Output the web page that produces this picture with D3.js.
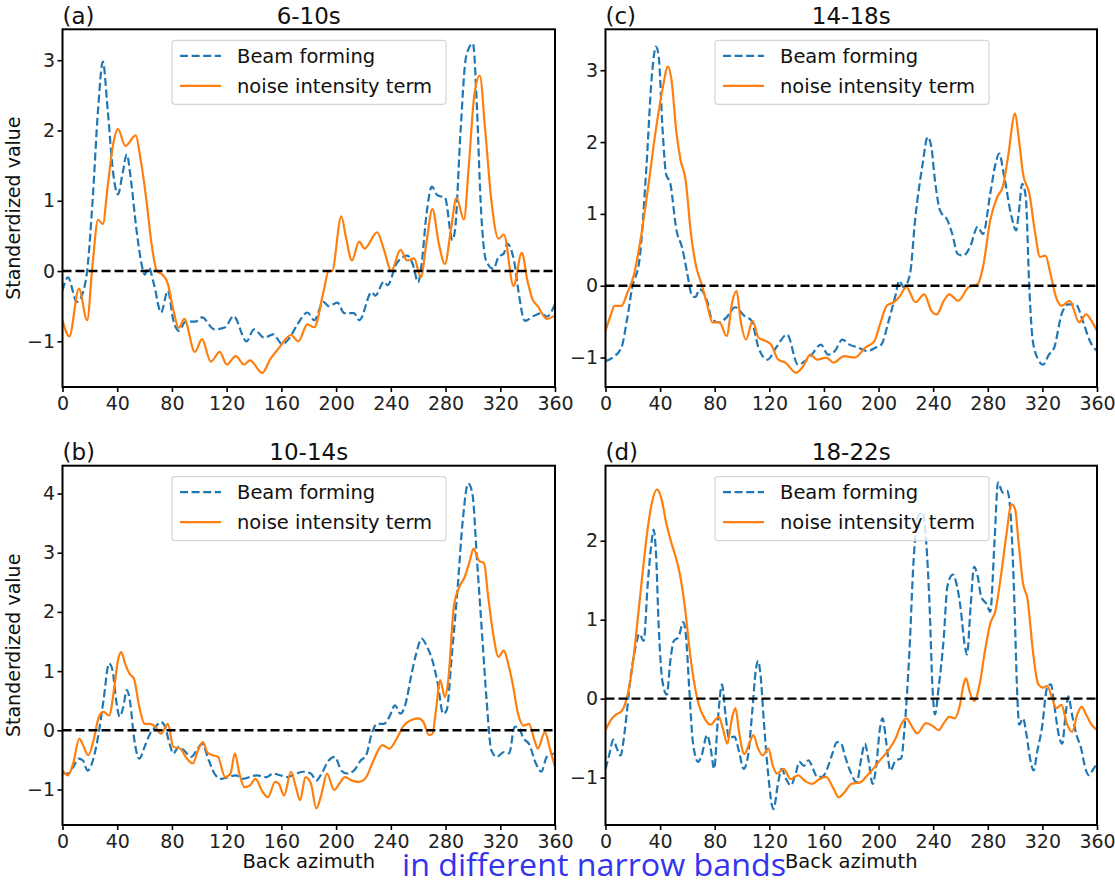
<!DOCTYPE html>
<html>
<head>
<meta charset="utf-8">
<script src="https://cdn.jsdelivr.net/npm/d3@7"></script>
<style>
  body { margin: 0; background: #fff; }
  svg { display: block; font-family: "DejaVu Sans", sans-serif; }
</style>
</head>
<body>
<svg id="fig" width="1115" height="882"></svg>
<script>
// azimuth ticks shared by all panels
var azTicks = [0, 40, 80, 120, 160, 200, 240, 280, 320, 360];

// (a) 6-10s  [back azimuth, standardized value]
var bfA = [[0,-0.28],[4,-0.09],[10.5,-0.44],[15,-0.3],[18,0],[22,1.0],[26,2.3],[29.5,2.98],[33,2.3],[37,1.4],[40.5,1.09],[44,1.4],[47,1.66],[50,1.3],[54,0.6],[59,0],[60,-0.05],[63,0.05],[67,-0.2],[72,-0.59],[77,-0.28],[81,-0.7],[85,-0.85],[90,-0.72],[97,-0.72],[102,-0.66],[111,-0.83],[119,-0.8],[125,-0.64],[134.5,-1.0],[140,-0.83],[147.6,-0.95],[154,-0.9],[160.6,-1.04],[166,-0.95],[172,-0.75],[179,-0.59],[184,-0.7],[190.7,-0.44],[194.6,-0.5],[201,-0.45],[206,-0.6],[213,-0.6],[217,-0.7],[226,-0.3],[228.6,-0.35],[235,-0.15],[237.7,-0.2],[244,0.1],[252,0.22],[256,0.1],[260,-0.16],[262.5,0.1],[266,0.8],[270,1.2],[274,1.08],[277,1.06],[279.5,1.05],[285,0.44],[287,0.6],[291,2.0],[295,3.05],[300,3.24],[303,2.3],[305.6,1.0],[309.6,0.15],[315,0.03],[318.7,0.2],[322.6,0.25],[325,0.39],[330.5,0.1],[333,-0.25],[338,-0.71],[343.5,-0.65],[350,-0.6],[354,-0.65],[360,-0.47]];
var niA = [[0,-0.7],[5,-0.93],[12,-0.25],[18,-0.7],[22,0.1],[26,0.73],[29.5,0.67],[33,1.2],[37,1.8],[40.5,2.02],[46,1.78],[53.5,1.93],[57,1.6],[61.4,1.0],[65,0.4],[69,0.0],[73,-0.05],[77,-0.18],[81,-0.55],[85,-0.81],[89,-0.68],[96.7,-1.15],[102,-0.97],[108.4,-1.29],[115,-1.15],[120,-1.33],[126.7,-1.21],[132.7,-1.33],[137,-1.27],[146,-1.45],[152,-1.25],[158,-1.1],[167,-0.91],[172.4,-1.0],[179,-0.76],[184,-0.8],[190.7,-0.3],[194.6,0],[197,0],[203.8,0.78],[207,0.5],[211.6,0.15],[216.8,0.42],[220.7,0.32],[230,0.55],[235,0.3],[240.3,0.0],[247,0.3],[252,0.15],[257,0.18],[262,-0.09],[266,0.4],[270.4,0.88],[275,0.4],[279.5,0.1],[284,0.6],[288,1.04],[293.4,0.73],[297,1.5],[301,2.5],[305,2.78],[309,2.0],[313.5,1.0],[318.7,0.46],[322.6,0.52],[329.7,-0.21],[335.7,0.26],[340,-0.15],[343.5,-0.4],[347.4,-0.5],[354,-0.68],[360,-0.63]];

// (b) 10-14s
var bfB = [[0,-0.73],[4,-0.73],[7.8,-0.62],[11.8,-0.48],[15,-0.51],[18.3,-0.68],[22.2,-0.51],[26,-0.11],[30,0.51],[34,1.13],[36.6,1.01],[39.2,0.51],[41.8,0.23],[44.4,0.39],[47,0.68],[49.6,0.45],[52.2,-0.11],[56.2,-0.48],[60,-0.28],[64,-0.06],[68,0.06],[72,0.14],[75,0.06],[77.6,-0.17],[81,-0.39],[85,-0.28],[88.8,-0.34],[94,-0.45],[98,-0.34],[102,-0.23],[107,-0.51],[111,-0.73],[116,-0.82],[121.5,-0.79],[126.7,-0.76],[132,-0.82],[137,-0.79],[142,-0.76],[149,-0.79],[154,-0.73],[159,-0.76],[164.6,-0.79],[171,-0.73],[176.3,-0.7],[181.6,-0.73],[185.5,-0.85],[189.4,-0.73],[194.6,-0.51],[199,-0.45],[203.8,-0.68],[207.7,-0.73],[213,-0.68],[218,-0.51],[222,-0.42],[226,-0.06],[230,0.11],[235,0.11],[239,0.23],[243,0.42],[247,0.28],[250.8,0.45],[254.7,0.9],[258.6,1.3],[262.5,1.55],[266.5,1.41],[270.4,1.18],[274.3,0.79],[278.2,0.28],[280.8,0.34],[284.7,1.3],[288.7,2.37],[292.6,3.55],[296.5,4.17],[299.6,4.0],[303,2.87],[307,1.52],[310,0.51],[313.5,-0.34],[317.4,-0.45],[322.6,-0.37],[326.5,-0.39],[330.5,0.06],[333,0.06],[337,-0.14],[341,-0.23],[346,-0.56],[350,-0.7],[354,-0.45],[360,-0.39]];
var niB = [[0,-0.68],[4,-0.76],[7.8,-0.56],[12.3,-0.14],[15,-0.25],[18.8,-0.42],[22.7,-0.17],[26.6,0.23],[30,0.31],[34,0.25],[37.9,0.73],[40.5,1.18],[43,1.32],[45.7,1.13],[48.9,0.96],[52.2,0.87],[56.2,0.39],[60,0.11],[64,0.11],[68,0.06],[72,-0.06],[77,0.11],[81,-0.28],[86.2,-0.31],[90,-0.45],[95.3,-0.56],[99,-0.34],[102.7,-0.2],[105.8,-0.37],[109.7,-0.42],[113.6,-0.45],[118.9,-0.79],[122.8,-0.73],[126,-0.39],[129.3,-0.73],[133,-0.96],[137,-0.93],[141,-0.82],[146.3,-1.04],[150.2,-1.13],[155.4,-0.87],[158,-0.9],[162,-1.1],[167,-0.7],[170.6,-0.96],[173.7,-1.18],[177.6,-0.79],[181.6,-0.9],[185.5,-1.32],[189.4,-1.07],[193.3,-0.73],[198.5,-1.01],[202.4,-0.9],[206.4,-0.79],[211.6,-0.85],[216.8,-0.87],[222,-0.79],[227.3,-0.51],[233.8,-0.25],[239,-0.31],[244.3,-0.14],[249.5,0.08],[254.7,0.17],[260,0.2],[263.8,0.14],[267.8,-0.08],[270.4,-0.06],[273,0.34],[276,0.85],[279.5,0.56],[282,0.85],[286,2.08],[290,2.42],[294,2.59],[297.8,2.87],[300.4,3.07],[304.3,2.87],[308.2,2.82],[310.9,2.31],[314.8,1.63],[318.7,1.24],[322.6,1.35],[325.2,1.18],[329,0.79],[333,0.28],[337,0.08],[341,0.11],[345,-0.17],[347.4,-0.31],[352.6,-0.03],[356.6,-0.34],[360,-0.62]];

// (c) 14-18s
var bfC = [[0,-1.05],[5.2,-1.0],[11.7,-0.86],[15.6,-0.49],[19.6,-0.02],[24.8,0.35],[30,1.66],[33.9,2.91],[37,3.33],[39,3.19],[41.7,2.21],[44.3,1.56],[47.5,1.42],[52,0.77],[56,0.54],[60,0.16],[63,-0.12],[65.7,-0.16],[69,-0.05],[74.4,-0.21],[78,-0.47],[83.5,-0.51],[88.7,-0.44],[95,-0.3],[101.7,-0.42],[107,-0.49],[112,-0.86],[118.7,-1.03],[125,-0.86],[133,-0.68],[141,-1.1],[146,-1.05],[151,-0.96],[157.8,-0.82],[163,-0.96],[168,-0.91],[173.5,-0.75],[178.7,-0.82],[185,-0.86],[191.8,-0.91],[198,-0.86],[202,-0.82],[207.4,-0.49],[212.6,-0.12],[215,0.07],[218.6,-0.02],[223,0.16],[227,0.96],[232,1.66],[236,2.07],[238.7,1.93],[241,1.52],[245,1.05],[250.5,0.91],[254,0.72],[258,0.44],[262,0.42],[267,0.54],[272.6,0.82],[276.5,0.72],[281.8,1.28],[285.7,1.7],[288.3,1.84],[292,1.52],[297.4,0.96],[300.8,0.77],[302.6,1.0],[305.2,1.42],[307.8,1.24],[310.5,-0.07],[313,-0.77],[317,-1.03],[320.4,-1.1],[324.8,-0.96],[328.7,-0.86],[334,-0.4],[339,-0.26],[344.4,-0.26],[349.6,-0.49],[354.8,-0.77],[360,-0.91]];
var niC = [[0,-0.63],[4,-0.4],[6.5,-0.28],[11.7,-0.28],[15.6,-0.12],[20.9,0.16],[26,0.68],[31.3,1.38],[36.5,2.12],[41.7,2.73],[45.7,3.05],[48.3,2.87],[52,2.12],[55,1.75],[58.7,1.47],[62.6,0.72],[66.5,0.26],[70.4,0.02],[74.4,-0.26],[78.3,-0.51],[83.5,-0.51],[88.7,-0.7],[93,-0.21],[96,-0.07],[99,-0.49],[103,-0.75],[107.7,-0.49],[112,-0.72],[117.4,-0.77],[121.3,-0.82],[126.5,-1.03],[131.7,-1.07],[139.6,-1.21],[144.8,-1.12],[150,-0.96],[155,-1.03],[161.7,-1.0],[167,-1.07],[174.8,-0.98],[182.6,-1.0],[190.4,-0.86],[197,-0.77],[201,-0.54],[206,-0.28],[211,-0.23],[215,-0.16],[220.4,-0.02],[227,-0.23],[233.5,-0.12],[238.7,-0.35],[242.6,-0.4],[247.8,-0.21],[251.8,-0.12],[258.3,-0.21],[266,-0.02],[272.6,0.02],[276.5,0.26],[281.8,0.91],[287,1.24],[291,1.38],[294.8,1.79],[300,2.4],[302.6,2.07],[305.8,1.56],[310.5,1.28],[314.4,0.77],[318.3,0.4],[322.2,0.42],[326,0.16],[330,-0.16],[334,-0.28],[340,-0.21],[347,-0.51],[352,-0.4],[356,-0.49],[360,-0.63]];

// (d) 18-22s
var bfD = [[0,-0.89],[2.6,-0.72],[5.7,-0.52],[8.3,-0.63],[11,-0.72],[14.3,-0.38],[18.3,0.26],[22,0.65],[24.8,0.82],[28,0.73],[30.8,1.42],[33.4,1.93],[35.2,2.14],[37,1.84],[39,0.9],[41.7,0.22],[44.9,0.05],[47.5,0.48],[50,0.73],[53.5,0.78],[57,0.97],[59,0.78],[61.3,0.14],[64,-0.55],[67.8,-0.8],[70.4,-0.72],[74.4,-0.46],[77,-0.63],[79.6,-0.89],[82.2,-0.29],[85.3,0.18],[87.9,-0.2],[90.5,-0.5],[94.4,-0.48],[97.8,-0.67],[101.2,-0.89],[104.4,-0.72],[107.5,-0.16],[110,0.35],[111.7,0.48],[113.5,0.31],[116,-0.29],[119,-0.93],[123,-1.4],[126.5,-1.06],[129,-0.89],[132.3,-1.02],[135.7,-1.1],[139.6,-0.93],[142,-0.8],[145.3,-0.85],[148.7,-0.78],[152,-0.89],[155,-0.99],[158.6,-0.99],[162.3,-0.89],[165.7,-0.72],[169.6,-0.55],[172.7,-0.57],[175.3,-0.72],[179.5,-0.93],[184,-1.06],[187.3,-0.76],[190,-0.57],[192.5,-0.76],[195.7,-1.08],[198.3,-0.85],[201,-0.38],[203,-0.25],[205.6,-0.55],[208.7,-0.91],[212.6,-0.78],[216.5,-0.76],[219,-0.38],[222.5,0.56],[225.7,1.76],[229,2.31],[232.2,2.36],[234.8,2.01],[237.4,1.16],[239.4,0.18],[241.3,-0.2],[244,0.14],[247.8,0.78],[250.4,1.42],[254.4,1.57],[257,1.46],[260,1.16],[263,0.69],[264.8,0.56],[267.4,1.16],[270,1.67],[272.6,1.55],[275.2,1.29],[279,1.2],[281.8,1.1],[285,2.01],[287.5,2.74],[291,2.61],[294.3,2.63],[297,2.27],[299.6,1.16],[301.4,0.14],[303,-0.33],[305.8,-0.25],[308.4,-0.46],[311,-0.76],[313.6,-0.91],[316.2,-0.67],[319.6,-0.38],[323.5,0.14],[326.2,0.18],[328.7,-0.08],[332,-0.46],[334.5,-0.57],[337,-0.2],[339,0.03],[341.7,-0.2],[345,-0.46],[348.4,-0.63],[351,-0.85],[354,-0.97],[357.4,-0.89],[360,-0.82]];
var niD = [[0,-0.4],[4,-0.27],[7.8,-0.2],[11.7,-0.16],[15,-0.03],[19.6,0.39],[23.5,0.99],[27.4,1.63],[30.8,2.14],[34,2.48],[37.8,2.65],[41,2.53],[44.4,2.23],[48.3,1.97],[52,1.76],[55.3,1.5],[58.7,1.08],[62,0.56],[65.2,0.18],[68.4,-0.08],[72.5,-0.25],[77,-0.33],[80.3,-0.27],[83,-0.23],[86,-0.38],[89.2,-0.57],[92.6,-0.25],[95.2,-0.12],[97.8,-0.42],[101.7,-0.7],[105.7,-0.55],[108.3,-0.46],[111.7,-0.63],[115.3,-0.72],[119.2,-0.63],[122.6,-0.85],[125.7,-0.95],[130.4,-0.89],[135.7,-1.02],[141,-0.97],[146,-1.04],[151.3,-1.08],[156.5,-1.02],[161.7,-0.99],[167,-1.14],[170.9,-1.25],[174.8,-1.19],[180,-1.08],[186.5,-1.06],[191.8,-0.97],[197,-0.87],[202,-0.76],[207.4,-0.65],[212.6,-0.5],[216.5,-0.33],[220.4,-0.25],[224.4,-0.35],[228.3,-0.44],[234.8,-0.31],[240,-0.35],[244,-0.4],[247.8,-0.31],[251.8,-0.23],[255.7,-0.25],[259.6,-0.08],[262.3,0.18],[264,0.26],[266.7,0.09],[270,-0.03],[274,0.18],[278,0.61],[281.8,0.95],[285.7,1.12],[289.6,1.55],[293.5,2.06],[297.4,2.46],[300,2.4],[302.6,1.97],[305.8,1.46],[309.2,1.25],[313,0.61],[317,0.18],[320.4,0.14],[323.5,0.16],[327.4,-0.01],[330,-0.12],[334,-0.08],[337.8,-0.31],[341.7,-0.42],[345.6,-0.2],[348.7,-0.1],[352,-0.2],[356,-0.33],[360,-0.4]];

var blue = '#1f77b4', orange = '#ff7f0e';

var panels = [
    { tag: '(a)', title: '6-10s',  left: 62.5,  right: 555,  top: 29.3,  bottom: 387, yDom: [-1.65, 3.44], yTicks: [-1, 0, 1, 2, 3],    bf: bfA, ni: niA, ylabel: true,  xlabel: false },
    { tag: '(c)', title: '14-18s', left: 605.5, right: 1097, top: 29.3,  bottom: 387, yDom: [-1.41, 3.57], yTicks: [-1, 0, 1, 2, 3],    bf: bfC, ni: niC, ylabel: false, xlabel: false },
    { tag: '(b)', title: '10-14s', left: 62.5,  right: 555,  top: 465.7, bottom: 825, yDom: [-1.6, 4.47],  yTicks: [-1, 0, 1, 2, 3, 4], bf: bfB, ni: niB, ylabel: true,  xlabel: true },
    { tag: '(d)', title: '18-22s', left: 605.5, right: 1097, top: 465.7, bottom: 825, yDom: [-1.6, 2.95],  yTicks: [-1, 0, 1, 2],       bf: bfD, ni: niD, ylabel: false, xlabel: true }
];

var svg = d3.select('#fig');
var fmt = function (d) { return String(d).replace('-', '\u2212'); };

panels.forEach(function (p, i) {
    var x = d3.scaleLinear().domain([0, 360]).range([p.left, p.right]);
    var y = d3.scaleLinear().domain(p.yDom).range([p.bottom, p.top]);

    svg.append('clipPath')
        .attr('id', 'clip' + i)
        .append('rect')
        .attr('x', p.left).attr('y', p.top)
        .attr('width', p.right - p.left).attr('height', p.bottom - p.top);

    var line = d3.line()
        .x(d => x(d[0]))
        .y(d => y(d[1]))
        .curve(d3.curveMonotoneX);

    var g = svg.append('g').attr('clip-path', 'url(#clip' + i + ')');

    g.append('path')
        .attr('d', line(p.bf))
        .attr('fill', 'none')
        .attr('stroke', blue)
        .attr('stroke-width', 2.2)
        .attr('stroke-dasharray', '8,3.6');

    g.append('path')
        .attr('d', line(p.ni))
        .attr('fill', 'none')
        .attr('stroke', orange)
        .attr('stroke-width', 2.2);

    // zero reference line
    g.append('line')
        .attr('x1', x(0)).attr('x2', x(360))
        .attr('y1', y(0)).attr('y2', y(0))
        .attr('stroke', '#000')
        .attr('stroke-width', 2.4)
        .attr('stroke-dasharray', '9,4');

    // axes
    var xAxis = svg.append('g')
        .attr('transform', 'translate(0,' + p.bottom + ')')
        .call(d3.axisBottom(x).tickValues(azTicks).tickSize(5).tickPadding(5).tickFormat(fmt));
    var yAxis = svg.append('g')
        .attr('transform', 'translate(' + p.left + ',0)')
        .call(d3.axisLeft(y).tickValues(p.yTicks).tickSize(5).tickPadding(2.5).tickFormat(fmt));

    [xAxis, yAxis].forEach(function (ax) {
        ax.select('.domain').remove();
        ax.attr('font-family', null).attr('font-size', null);
        ax.selectAll('line').attr('stroke', '#000').attr('stroke-width', 1.6);
        ax.selectAll('text').attr('fill', '#222').style('font-size', '19px');
    });

    // frame
    svg.append('rect')
        .attr('x', p.left).attr('y', p.top)
        .attr('width', p.right - p.left).attr('height', p.bottom - p.top)
        .attr('fill', 'none')
        .attr('stroke', '#000')
        .attr('stroke-width', 2);

    // titles
    svg.append('text')
        .attr('x', (p.left + p.right) / 2)
        .attr('y', p.top - 5.5)
        .attr('text-anchor', 'middle')
        .style('font-size', '23px')
        .attr('fill', '#111')
        .text(p.title);
    svg.append('text')
        .attr('x', p.left)
        .attr('y', p.top - 5.5)
        .style('font-size', '23px')
        .attr('fill', '#111')
        .text(p.tag);

    // legend
    var lx = p.left + 109.5, ly = p.top + 11;
    var leg = svg.append('g');
    leg.append('rect')
        .attr('x', lx).attr('y', ly)
        .attr('width', 274).attr('height', 64)
        .attr('rx', 3)
        .attr('fill', '#fff').attr('fill-opacity', 0.8)
        .attr('stroke', '#d6d6d6').attr('stroke-width', 1.2);
    [['Beam forming', blue, '8,3.6'], ['noise intensity term', orange, null]].forEach(function (e, k) {
        var cy = ly + 15.5 + k * 30;
        leg.append('line')
            .attr('x1', lx + 8).attr('x2', lx + 49)
            .attr('y1', cy).attr('y2', cy)
            .attr('stroke', e[1]).attr('stroke-width', 2.2)
            .attr('stroke-dasharray', e[2]);
        leg.append('text')
            .attr('x', lx + 65).attr('y', cy)
            .attr('dy', '0.36em')
            .style('font-size', '19.5px')
            .attr('fill', '#111')
            .text(e[0]);
    });

    if (p.ylabel) {
        svg.append('text')
            .attr('transform', 'translate(20,' + ((p.top + p.bottom) / 2) + ') rotate(-90)')
            .attr('text-anchor', 'middle')
            .style('font-size', '19px')
            .attr('fill', '#111')
            .text('Standerdized value');
    }
    if (p.xlabel) {
        svg.append('text')
            .attr('x', (p.left + p.right) / 2)
            .attr('y', 868)
            .attr('text-anchor', 'middle')
            .style('font-size', '19.5px')
            .attr('fill', '#111')
            .text('Back azimuth');
    }
});

// slide caption overlapping the figure bottom
svg.append('text')
    .attr('x', 402)
    .attr('y', 876)
    .attr('textLength', 384)
    .attr('lengthAdjust', 'spacingAndGlyphs')
    .style('font-family', '"Open Sans", sans-serif')
    .style('font-size', '31px')
    .attr('fill', '#3434ee')
    .text('in different narrow bands');
</script>
</body>
</html>
